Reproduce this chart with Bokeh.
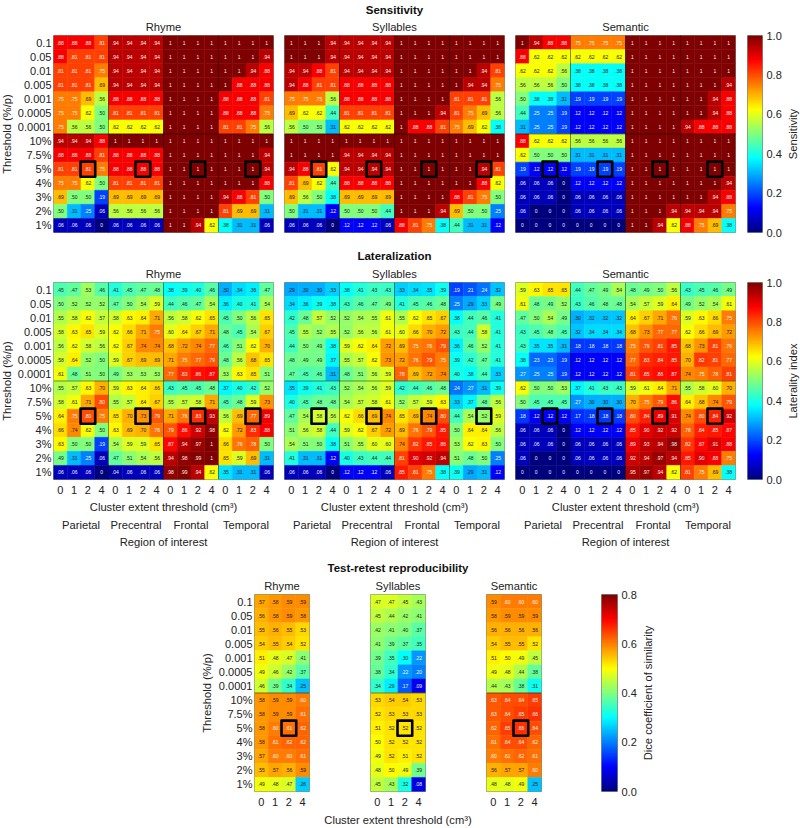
import math
import numpy as np
from bokeh.embed import file_html
from bokeh.resources import INLINE
from bokeh.layouts import column, row
from bokeh.models import (ColumnDataSource, FixedTicker, LinearAxis, LinearColorMapper, Range1d, Span, Title)
from bokeh.core.properties import value
from bokeh.plotting import figure
from bokeh.transform import transform

thresholds = ["0.1", "0.05", "0.01", "0.005", "0.001", "0.0005", "0.0001",
              "10%", "7.5%", "5%", "4%", "3%", "2%", "1%"]
cluster = ["0", "1", "2", "4"]
regions = ["Parietal", "Precentral", "Frontal", "Temporal"]
tasks = ["Rhyme", "Syllables", "Semantic"]

sens_rhyme = [
 [.88,.88,.88,.81,.94,.94,.94,.94,1,1,1,1,1,1,1,1],
 [.88,.81,.81,.81,.94,.94,.94,.94,1,1,1,1,1,1,1,.94],
 [.81,.81,.81,.75,.94,.94,.94,.94,1,1,1,1,1,1,.94,.88],
 [.81,.81,.81,.69,.94,.94,.94,.94,1,1,1,1,1,.88,.88,.88],
 [.75,.75,.69,.56,.88,.88,.88,.88,1,1,1,1,.88,.88,.88,.81],
 [.75,.75,.62,.50,.81,.81,.81,.81,1,1,1,1,.88,.88,.88,.75],
 [.75,.56,.56,.50,.62,.62,.62,.62,1,1,1,1,.81,.81,.75,.56],
 [.94,.94,.94,.88,1,1,1,1,1,1,1,1,1,1,1,1],
 [.88,.88,.88,.81,.88,.88,.88,.88,1,1,1,1,1,1,1,.94],
 [.81,.81,.81,.75,.88,.88,.88,.88,1,1,1,1,1,1,1,.94],
 [.75,.75,.62,.50,.81,.81,.81,.81,1,1,1,1,1,1,1,.88],
 [.69,.50,.50,.19,.69,.69,.69,.69,1,1,1,1,.94,.88,.81,.50],
 [.50,.31,.25,.06,.56,.56,.56,.56,1,1,1,1,.81,.69,.69,.31],
 [.06,.06,.06,0,.06,.06,.06,.06,1,1,.94,.62,.38,.31,.31,.06],
]
sens_syll = [
 [1,1,1,.94,.94,.94,.94,.94,1,1,1,1,1,1,1,1],
 [1,1,1,.94,.94,.94,.94,.94,1,1,1,1,1,1,1,1],
 [.94,.94,.88,.81,.94,.94,.94,.94,1,1,1,1,1,1,.94,.81],
 [.94,.88,.81,.81,.88,.88,.88,.88,1,1,1,1,1,.94,.94,.75],
 [.75,.75,.75,.56,.88,.88,.88,.88,1,1,1,1,.81,.81,.81,.56],
 [.69,.62,.62,.44,.81,.81,.81,.81,1,1,1,.94,.81,.75,.69,.56],
 [.56,.50,.50,.31,.62,.62,.62,.62,1,.88,.88,.81,.75,.69,.62,.38],
 [1,1,1,1,1,1,1,1,1,1,1,1,1,1,1,1],
 [1,1,1,1,.94,.94,.94,.94,1,1,1,1,1,1,1,1],
 [.94,.88,.81,.62,.94,.94,.94,.94,1,1,1,1,1,1,.94,.81],
 [.81,.69,.62,.44,.88,.88,.88,.88,1,1,1,1,1,1,.88,.62],
 [.69,.56,.50,.38,.69,.69,.69,.69,1,1,1,1,.88,.81,.75,.50],
 [.50,.31,.31,.12,.50,.50,.50,.44,1,1,1,.94,.69,.50,.50,.25],
 [.06,.06,.06,0,.12,.12,.12,.06,.88,.81,.75,.38,.44,.31,.31,.12],
]
sens_sem = [
 [1,.94,.88,.88,.75,.75,.75,.75,1,1,1,1,1,1,1,1],
 [.88,.62,.62,.62,.62,.62,.62,.62,1,1,1,1,1,1,1,1],
 [.62,.62,.62,.56,.38,.38,.38,.38,1,1,1,1,1,1,1,1],
 [.56,.56,.56,.50,.38,.38,.38,.38,1,1,1,1,1,1,1,.94],
 [.50,.38,.38,.31,.19,.19,.19,.19,1,1,1,1,1,1,.94,.88],
 [.44,.25,.25,.19,.12,.12,.12,.12,1,1,1,1,1,1,.94,.88],
 [.31,.25,.25,.19,.12,.12,.12,.12,1,1,1,1,.94,.88,.88,.88],
 [.88,.62,.62,.62,.56,.56,.56,.56,1,1,1,1,1,1,1,1],
 [.62,.50,.50,.50,.31,.31,.31,.31,1,1,1,1,1,1,1,1],
 [.19,.12,.12,.12,.19,.19,.19,.19,1,1,1,1,1,1,1,1],
 [.06,.06,.06,0,.12,.12,.12,.12,1,1,1,1,1,1,1,.94],
 [.06,.06,.06,0,.06,.06,.06,.06,1,1,1,1,1,1,.94,.88],
 [.06,0,0,0,.06,.06,.06,.06,1,1,1,.94,.94,.94,.94,.75],
 [0,0,0,0,0,0,0,0,1,1,.94,.62,.88,.75,.69,.38],
]
lat_rhyme = [
 [.45,.47,.53,.46,.41,.45,.47,.48,.38,.39,.40,.46,.30,.34,.36,.47],
 [.50,.52,.52,.52,.47,.50,.54,.59,.44,.46,.47,.54,.36,.40,.41,.54],
 [.55,.58,.62,.57,.58,.63,.64,.71,.56,.58,.62,.65,.45,.50,.56,.65],
 [.58,.63,.65,.59,.62,.66,.71,.75,.60,.64,.67,.71,.48,.45,.54,.67],
 [.56,.62,.58,.56,.62,.67,.74,.74,.68,.72,.74,.77,.46,.51,.62,.70],
 [.58,.64,.52,.50,.59,.67,.69,.69,.71,.75,.77,.79,.48,.56,.68,.65],
 [.61,.48,.51,.50,.49,.53,.53,.53,.77,.83,.86,.87,.53,.63,.65,.51],
 [.55,.57,.63,.70,.59,.63,.64,.66,.43,.45,.45,.48,.37,.40,.42,.52],
 [.58,.61,.71,.80,.55,.57,.64,.67,.55,.57,.58,.71,.45,.48,.59,.73],
 [.64,.75,.80,.75,.65,.70,.73,.79,.71,.76,.83,.93,.56,.69,.77,.89],
 [.66,.74,.62,.50,.63,.69,.70,.76,.79,.86,.92,.98,.62,.72,.83,.88],
 [.63,.50,.50,.19,.54,.59,.59,.65,.87,.94,.97,1,.66,.76,.78,.50],
 [.49,.31,.25,.06,.47,.51,.54,.56,.94,.98,.99,1,.65,.59,.69,.31],
 [.06,.06,.06,0,.04,.06,.06,.06,.98,.99,.94,.62,.35,.31,.31,.06],
]
lat_syll = [
 [.29,.30,.30,.33,.38,.41,.43,.43,.33,.34,.35,.39,.19,.21,.24,.32],
 [.34,.36,.39,.38,.43,.46,.47,.49,.41,.45,.46,.48,.25,.29,.33,.49],
 [.42,.48,.57,.52,.52,.54,.55,.61,.55,.62,.65,.67,.38,.44,.46,.41],
 [.45,.55,.52,.55,.52,.56,.56,.61,.60,.66,.70,.72,.43,.44,.58,.41],
 [.44,.50,.49,.38,.59,.62,.64,.72,.69,.75,.76,.79,.36,.46,.52,.41],
 [.48,.49,.49,.37,.55,.57,.62,.73,.72,.76,.79,.75,.39,.42,.47,.41],
 [.47,.45,.46,.31,.48,.51,.56,.59,.78,.69,.72,.74,.40,.38,.44,.33],
 [.35,.39,.41,.43,.52,.54,.56,.59,.42,.44,.46,.48,.24,.27,.31,.39],
 [.40,.45,.48,.48,.54,.57,.58,.61,.52,.57,.59,.63,.33,.37,.48,.56],
 [.47,.54,.58,.56,.62,.66,.69,.74,.65,.69,.74,.80,.44,.54,.52,.59],
 [.51,.56,.58,.44,.59,.62,.67,.72,.69,.76,.79,.85,.50,.64,.64,.56],
 [.54,.51,.50,.38,.51,.55,.60,.60,.74,.82,.85,.86,.53,.62,.63,.50],
 [.41,.31,.31,.12,.40,.43,.44,.44,.81,.90,.92,.94,.51,.48,.50,.25],
 [.06,.06,.06,0,.12,.12,.12,.06,.85,.81,.75,.38,.39,.29,.31,.12],
]
lat_sem = [
 [.59,.63,.65,.65,.44,.47,.49,.54,.48,.49,.50,.56,.43,.45,.46,.49],
 [.61,.48,.49,.52,.43,.46,.48,.48,.54,.57,.59,.64,.49,.52,.54,.61],
 [.47,.50,.54,.49,.30,.32,.32,.32,.64,.67,.71,.76,.59,.63,.66,.75],
 [.43,.45,.48,.45,.32,.34,.34,.34,.68,.73,.77,.77,.62,.66,.69,.72],
 [.43,.35,.35,.31,.18,.18,.18,.18,.75,.79,.81,.85,.68,.73,.81,.76],
 [.38,.23,.23,.19,.12,.12,.12,.12,.77,.83,.84,.85,.70,.82,.81,.77],
 [.27,.25,.25,.19,.12,.12,.12,.12,.81,.85,.86,.87,.74,.75,.78,.81],
 [.62,.50,.50,.53,.37,.41,.43,.43,.59,.61,.64,.71,.55,.58,.60,.70],
 [.50,.45,.45,.45,.27,.30,.30,.30,.70,.75,.79,.86,.64,.68,.74,.79],
 [.18,.12,.12,.12,.17,.18,.18,.18,.80,.84,.89,.91,.74,.80,.84,.92],
 [.06,.06,.06,0,.12,.12,.12,.12,.85,.90,.92,.92,.78,.84,.85,.87],
 [.06,.06,.06,0,.06,.06,.06,.06,.89,.93,.94,.98,.82,.87,.91,.88],
 [.06,0,0,0,.06,.06,.06,.06,.92,.94,.97,.94,.85,.90,.88,.75],
 [0,0,0,0,0,0,0,0,.95,.97,.94,.62,.81,.75,.69,.38],
]
dice_rhyme = [
 [.57,.58,.59,.59],[.56,.58,.59,.58],[.55,.56,.55,.53],[.54,.55,.54,.52],
 [.51,.48,.47,.41],[.49,.46,.42,.37],[.46,.39,.34,.25],[.58,.59,.59,.60],
 [.58,.59,.59,.61],[.58,.60,.61,.62],[.58,.61,.62,.62],[.57,.60,.60,.61],
 [.55,.57,.56,.59],[.49,.48,.47,.26],
]
dice_syll = [
 [.47,.47,.45,.43],[.45,.44,.42,.41],[.42,.41,.40,.37],[.41,.39,.37,.35],
 [.39,.35,.30,.22],[.38,.34,.22,.20],[.34,.29,.17,.09],[.53,.54,.54,.53],
 [.52,.53,.53,.53],[.51,.52,.52,.52],[.50,.52,.52,.52],[.49,.52,.51,.52],
 [.48,.50,.49,.39],[.45,.43,.32,.08],
]
dice_sem = [
 [.59,.60,.60,.60],[.58,.59,.59,.59],[.56,.56,.56,.56],[.54,.55,.55,.52],
 [.51,.50,.49,.45],[.49,.48,.44,.38],[.44,.43,.38,.31],[.63,.64,.64,.65],
 [.63,.64,.65,.66],[.62,.65,.66,.64],[.61,.64,.64,.62],[.60,.61,.62,.61],
 [.56,.57,.57,.60],[.48,.48,.49,.25],
]

FONT = "Liberation Sans"
TICK = "11px"
LABEL = "11.2px"
TXT = "#222222"


def jet_palette(n=256):
    out = []
    for t in np.linspace(0, 1, n):
        r = np.clip(min(4 * t - 1.5, -4 * t + 4.5), 0, 1)
        g = np.clip(min(4 * t - 0.5, -4 * t + 3.5), 0, 1)
        b = np.clip(min(4 * t + 0.5, -4 * t + 2.5), 0, 1)
        out.append("#%02x%02x%02x" % (int(r * 255), int(g * 255), int(b * 255)))
    return out


JET = jet_palette()


def fmt(v):
    if v == 0:
        return "0"
    if v == 1:
        return "1"
    return f"{v:.2f}"[1:]


def style_axis(ax):
    ax.major_tick_line_color = None
    ax.minor_tick_line_color = None
    ax.major_tick_out = 0
    ax.major_tick_in = 0
    ax.minor_tick_out = 0
    ax.minor_tick_in = 0
    ax.axis_line_color = None
    ax.major_label_text_font = FONT
    ax.major_label_text_font_size = TICK
    ax.major_label_text_color = TXT
    ax.axis_label_text_font = FONT
    ax.axis_label_text_font_size = LABEL
    ax.axis_label_text_font_style = "normal"
    ax.axis_label_text_color = TXT


def panel(values, vmax, title, W, H, left, right, top, bottom,
          show_y=False, y_label=None, show_x=False, x_label=None, regions_axis=False,
          heading=None, heading_standoff=6, xl_standoff=4):
    vals = np.array(values, dtype=float)
    nrows, ncols = vals.shape
    p = figure(width=W, height=H, output_backend="svg", toolbar_location=None,
               x_range=Range1d(0, ncols), y_range=Range1d(nrows, 0),
               x_axis_type=None, y_axis_type=None,
               min_border_left=left, min_border_right=right,
               min_border_top=top, min_border_bottom=bottom)
    p.grid.visible = False
    p.outline_line_color = "#7f8f7f"
    p.outline_line_width = 1
    p.background_fill_color = "white"

    xs, ys, vs, txt, col = [], [], [], [], []
    for r in range(nrows):
        for c in range(ncols):
            v = vals[r, c]
            xs.append(c + .5)
            ys.append(r + .5)
            vs.append(v)
            txt.append(fmt(v))
            col.append("#f2f2f2" if v / vmax >= .745 or v / vmax < .28 else "#1a1a1a")
    src = ColumnDataSource(dict(x=xs, y=ys, v=vs, t=txt, c=col))
    mapper = LinearColorMapper(palette=JET, low=0, high=vmax)
    p.rect("x", "y", 1, 1, source=src, fill_color=transform("v", mapper),
           line_color=transform("v", mapper), line_width=.5)
    p.text("x", "y", text="t", source=src, text_color="c", text_align="center",
           text_baseline="middle", text_font_size="5px")

    for g in range(4, ncols, 4):
        p.add_layout(Span(location=g, dimension="height", line_color="#000000",
                          line_alpha=.45, line_width=1))
    p.add_layout(Span(location=7, dimension="width", line_color="#000000",
                      line_alpha=.45, line_width=1))

    hx = [g + 2.5 for g in range(0, ncols, 4)]
    p.rect(hx, [9.5] * len(hx), 1.07, 1.07, fill_color=None, line_color="black",
           line_width=2.6, line_join="round")

    if show_y:
        ay = LinearAxis(ticker=FixedTicker(ticks=[i + .5 for i in range(nrows)]),
                        major_label_overrides={i + .5: thresholds[i] for i in range(nrows)},
                        axis_label=y_label)
        style_axis(ay)
        ay.major_label_standoff = 2
        ay.axis_label_standoff = 3
        p.add_layout(ay, "left")
    if show_x:
        pos = [i + .5 for i in range(ncols)]
        ax = LinearAxis(ticker=FixedTicker(ticks=pos),
                        major_label_overrides={i + .5: cluster[i % 4] for i in range(ncols)},
                        axis_label=x_label)
        style_axis(ax)
        ax.major_label_standoff = 6
        ax.axis_label_standoff = xl_standoff
        p.add_layout(ax, "below")
    if regions_axis:
        pos = [g + 2 for g in range(0, ncols, 4)]
        ar = LinearAxis(ticker=FixedTicker(ticks=pos),
                        major_label_overrides={pos[i]: regions[i] for i in range(4)},
                        axis_label="Region of interest")
        style_axis(ar)
        ar.major_label_text_font_size = LABEL
        ar.major_label_standoff = 3
        ar.axis_label_standoff = 2
        p.add_layout(ar, "below")

    t = Title(text=title, align="center", text_font=FONT, text_font_size=LABEL,
              text_font_style="normal", text_color=TXT, offset=0, standoff=2,
              vertical_align="top")
    p.add_layout(t, "above")
    if heading:
        h = Title(text=heading, align="center", text_font=FONT, text_font_size="11.5px",
                  text_font_style="bold", text_color="#111111", standoff=heading_standoff,
                  vertical_align="top")
        p.add_layout(h, "above")
    return p


def colorbar(vmax, ticks, W, H, left, right, top, bottom):
    p = figure(width=W, height=H, output_backend="svg", toolbar_location=None,
               x_range=Range1d(0, 1), y_range=Range1d(0, vmax),
               x_axis_type=None, y_axis_type=None,
               min_border_left=left, min_border_right=right,
               min_border_top=top, min_border_bottom=bottom)
    p.grid.visible = False
    p.outline_line_color = "#7f8f7f"
    levels = np.linspace(0, vmax, 256)
    mapper = LinearColorMapper(palette=JET, low=0, high=vmax)
    p.image(image=[levels.reshape(-1, 1)], x=0, y=0, dw=1, dh=vmax, color_mapper=mapper)
    ax = LinearAxis(ticker=FixedTicker(ticks=ticks),
                    major_label_overrides={t: f"{t:.1f}" for t in ticks})
    style_axis(ax)
    ax.major_label_standoff = 4
    p.add_layout(ax, "right")
    return p


def vlabel(text, W, H, top, bottom):
    p = figure(width=W, height=H, output_backend="svg", toolbar_location=None,
               x_range=Range1d(0, 1), y_range=Range1d(0, 1),
               x_axis_type=None, y_axis_type=None,
               min_border_left=0, min_border_right=0,
               min_border_top=top, min_border_bottom=bottom)
    p.grid.visible = False
    p.outline_line_color = None
    p.text([.5], [.5], text=[text], angle=math.pi / 2, text_align="center",
           text_baseline="middle", text_font=value(FONT), text_font_size=LABEL,
           text_color=TXT)
    return p


XL = "Cluster extent threshold (cm\u00b3)"
YL = "Threshold (%/p)"
T1 = [0, .2, .4, .6, .8, 1.0]
T3 = [0, .2, .4, .6, .8]

row1 = row(
    vlabel(YL, 13, 240, 35, 8),
    panel(sens_rhyme, 1, tasks[0], 266, 240, 40, 6, 35, 8, show_y=True),
    panel(sens_syll, 1, tasks[1], 231, 240, 5, 6, 35, 8, heading="Sensitivity", heading_standoff=4),
    panel(sens_sem, 1, tasks[2], 231, 240, 5, 6, 35, 8),
    colorbar(1, T1, 43, 240, 6, 21, 35, 8),
    vlabel("Sensitivity", 16, 240, 35, 8),
    spacing=0,
)
row2 = row(
    vlabel(YL, 13, 315, 42, 76),
    panel(lat_rhyme, 1, tasks[0], 266, 315, 40, 6, 42, 76, show_y=True, show_x=True, x_label=XL, regions_axis=True),
    panel(lat_syll, 1, tasks[1], 231, 315, 5, 6, 42, 76, show_x=True, x_label=XL, regions_axis=True, heading="Lateralization"),
    panel(lat_sem, 1, tasks[2], 231, 315, 5, 6, 42, 76, show_x=True, x_label=XL, regions_axis=True),
    colorbar(1, T1, 43, 315, 6, 21, 42, 76),
    vlabel("Laterality index", 16, 315, 42, 76),
    spacing=0,
)
row3 = row(
    panel(dice_rhyme, .8, tasks[0], 315, 273, 254, 6, 39, 37, show_y=True, y_label=YL, show_x=True),
    panel(dice_syll, .8, tasks[1], 165, 273, 55, 55, 39, 37, show_x=True, x_label=XL, heading="Test-retest reproducibility", xl_standoff=5),
    panel(dice_sem, .8, tasks[2], 110, 273, 6, 49, 39, 37, show_x=True),
    colorbar(.8, T3, 49, 273, 11, 21, 39, 37),
    vlabel("Dice coefficient of similarity", 16, 273, 39, 37),
    spacing=0,
)
root = column(row1, row2, row3, spacing=0, margin=0)
open("out.html", "w").write(file_html(root, INLINE))
